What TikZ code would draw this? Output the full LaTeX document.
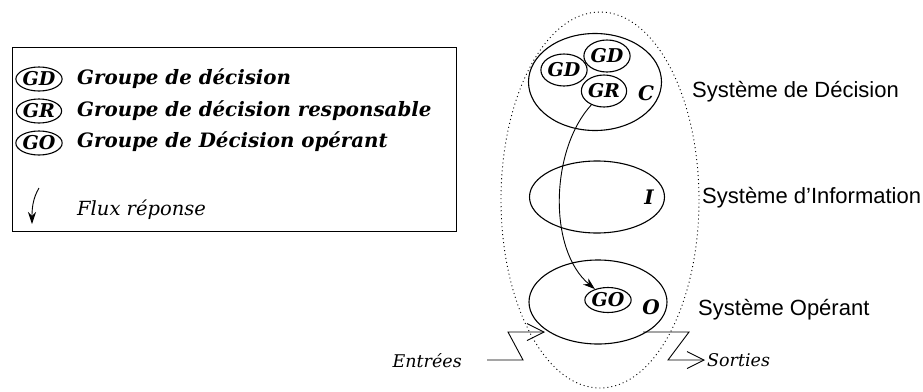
\documentclass[tikz,border=0pt]{standalone}
\usepackage{fontspec}
\newfontfamily\helv{Liberation Sans}
\newfontfamily\schb{DejaVu Serif}
\usetikzlibrary{arrows.meta,shapes.geometric}
\begin{document}
\begin{tikzpicture}[x=1pt,y=-1pt,
  ell/.style={draw, ellipse, line width=1.1pt, inner sep=0pt},
  grp/.style={ell, minimum width=40pt, minimum height=32pt, font=\schb\fontsize{19}{24}\selectfont\bfseries\itshape},
  lgrp/.style={ell, minimum width=42pt, minimum height=24pt, font=\schb\fontsize{19}{24}\selectfont\bfseries\itshape},
  big/.style={ell},
  tag/.style={inner sep=0pt, font=\schb\fontsize{20}{26}\selectfont\bfseries\itshape},
  legtxt/.style={inner sep=0pt, anchor=base west, font=\schb\fontsize{19.8}{26}\selectfont\bfseries\itshape},
  legplain/.style={inner sep=0pt, anchor=base west, font=\schb\fontsize{19.5}{26}\selectfont\itshape},
  systxt/.style={inner sep=0pt, anchor=base west, font=\helv\fontsize{22}{26}\selectfont},
  iotxt/.style={inner sep=0pt, font=\schb\fontsize{17.5}{26}\selectfont\itshape},
  flow/.style={line width=0.9pt, -{Stealth[length=12pt,width=8pt]}},
  zig/.style={line width=0.9pt, -{Straight Barb[length=17pt,width=17pt]}}
]
\useasboundingbox (0,0) rectangle (923,391);

% legend
\node[draw, line width=0.9pt, minimum width=444pt, minimum height=184pt, inner sep=0pt] (legend) at (234,139) {};
\node[lgrp] (lgd) at (39,79) {GD};
\node[lgrp] (lgr) at (39,111) {GR};
\node[lgrp] (lgo) at (39,143) {GO};
\node[legtxt] (tgd) at (77,84) {Groupe de décision};
\node[legtxt] (tgr) at (77,116) {Groupe de décision responsable};
\node[legtxt] (tgo) at (77,147) {Groupe de Décision opérant};
\node[legplain] (tfl) at (77,215) {Flux réponse};
\coordinate (f1) at (39,188);
\coordinate (f2) at (32,224);
\draw[flow] (f1) .. controls (33,198) and (32,208) .. (f2);

% system
\node[draw, ellipse, line width=0.9pt, dash pattern=on 1pt off 3pt, minimum width=198pt, minimum height=376pt, inner sep=0pt] (sys) at (600,200) {};
\node[big, minimum width=133pt, minimum height=97pt] (C) at (595,82) {};
\node[big, minimum width=135pt, minimum height=72pt] (I) at (597,197) {};
\node[big, minimum width=138pt, minimum height=84pt] (O) at (598,302) {};
\node[grp] (gd1) at (564,70) {GD};
\node[grp] (gd2) at (607,56) {GD};
\node[grp] (gr) at (604,91) {GR};
\node[grp, minimum height=25pt] (go) at (608,300) {GO};
\node[tag] (tc) at (646,93) {C};
\node[tag] (ti) at (649,197) {I};
\node[tag] (to) at (651,307) {O};
\draw[flow] (gr) .. controls (550,150) and (548,250) .. (go);

\node[systxt] (sd) at (692,97) {Système de Décision};
\node[systxt] (si) at (702,203) {Système d’Information};
\node[systxt] (so) at (698,315) {Système Opérant};

% inputs / outputs
\node[iotxt, anchor=base east] (ent) at (462,367) {Entrées};
\node[iotxt, anchor=base west] (sor) at (707,366) {Sorties};
\coordinate (e1) at (487,360);
\coordinate (e2) at (523,360);
\coordinate (e3) at (508,332);
\coordinate (e4) at (545,332);
\draw[zig] (e1) -- (e2) -- (e3) -- (e4);
\coordinate (s1) at (643,332);
\coordinate (s2) at (689,332);
\coordinate (s3) at (668,360);
\coordinate (s4) at (705,360);
\draw[zig] (s1) -- (s2) -- (s3) -- (s4);
\end{tikzpicture}
\end{document}
